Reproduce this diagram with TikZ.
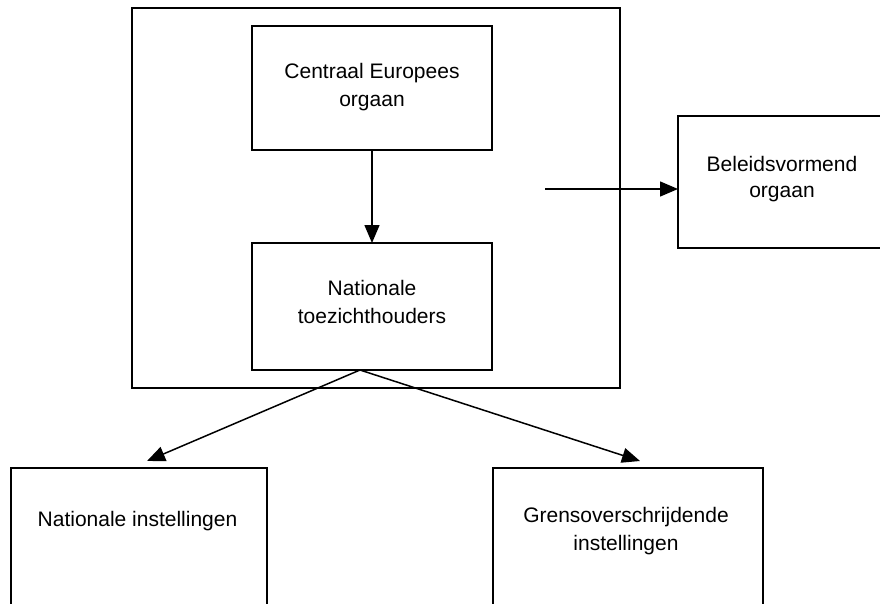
\documentclass[tikz,border=0pt]{standalone}
\usepackage{fontspec}
\setmainfont{Liberation Sans}
\usetikzlibrary{arrows.meta}
\begin{document}
\begin{tikzpicture}[x=1pt,y=-1pt,
  box/.style={draw,line width=1.4pt},
  lbl/.style={align=center,font=\fontsize{21}{28}\selectfont,inner sep=0pt,anchor=base},
  conn/.style={line width=1.5pt,-{Triangle[length=18pt,width=15pt]}}]
\useasboundingbox (0,0) rectangle (880,603);
\draw[box] (132,8) rectangle (620,388);
\draw[box] (252,26) rectangle (492,150);
\node[lbl] (ceo) at (372,106) {Centraal Europees\\orgaan};
\draw[box] (252,243) rectangle (492,370);
\node[lbl] (nt) at (372,323) {Nationale\\toezichthouders};
\draw[box] (678,116) rectangle (895,248);
\node[lbl,font=\fontsize{21}{26}\selectfont] (bo) at (782,197) {Beleidsvormend\\orgaan};
\draw[box] (11,468) rectangle (267,610);
\node[lbl] (ni) at (137.5,526) {Nationale instellingen};
\draw[box] (493,468) rectangle (763,610);
\node[lbl] (gi) at (626,550) {Grensoverschrijdende\\instellingen};
\coordinate (ceoB) at (372,150);
\coordinate (ntT) at (372,243);
\coordinate (ntB) at (360,370);
\coordinate (arS) at (545,189);
\coordinate (boL) at (678,189);
\coordinate (niT) at (147,461);
\coordinate (giT) at (640,461);
\draw[conn] (ceoB) -- (ntT);
\draw[conn] (arS) -- (boL);
\draw[conn] (ntB) -- (niT);
\draw[conn] (ntB) -- (giT);
\end{tikzpicture}
\end{document}
